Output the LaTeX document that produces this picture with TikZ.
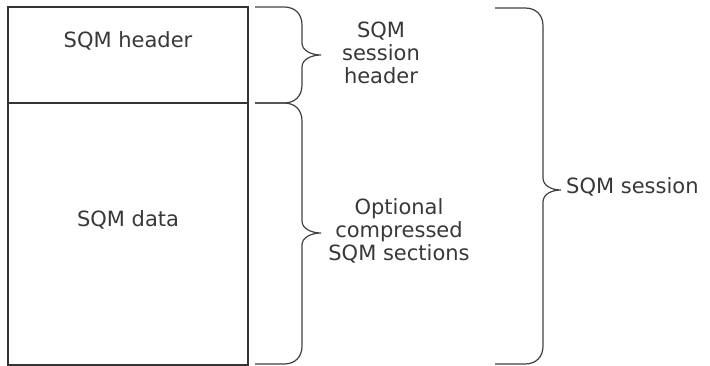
\documentclass[tikz,border=0pt]{standalone}
\usepackage{fontspec}
\setmainfont{DejaVu Sans}
\usetikzlibrary{positioning}

% brace: start x, stem x, tip x, top y, tip y, bottom y
\newcommand{\sqmbrace}[6]{%
  \draw[brace line] (#1,#4) -- ({#2-18},#4)
    .. controls ({#2-7},#4) and (#2,{#4+7}) .. (#2,{#4+18})
    -- (#2,{#5-12})
    .. controls (#2,{#5-4}) and ({#3-9},#5) .. (#3,#5)
    .. controls ({#3-9},#5) and (#2,{#5+4}) .. (#2,{#5+12})
    -- (#2,{#6-18})
    .. controls (#2,{#6-7}) and ({#2-7},#6) .. ({#2-18},#6)
    -- (#1,#6);}

\begin{document}
\begin{tikzpicture}[x=1pt,y=-1pt,
    font=\fontsize{21}{23}\selectfont,text=black!78,
    box/.style={draw=black!80,line width=1.2pt,minimum width=240pt,inner sep=0pt},
    brace line/.style={draw=black!75,line width=1.2pt},
    txt/.style={align=center,inner sep=0pt}]

  \useasboundingbox (0,0) rectangle (710,366);

  \node[box,minimum height=96pt] (hdrbox) at (128,55) {};
  \node[box,minimum height=262pt] (databox) at (128,234) {};
  \node[txt] (hdr) at (128,41) {SQM header};
  \node[txt] (data) at (128,220) {SQM data};

  \sqmbrace{255}{302}{321}{7}{55}{103}
  \sqmbrace{255}{302}{321}{103}{233}{364}
  \sqmbrace{495}{543}{561}{8}{190}{364}

  \node[txt] (sesshdr) at (381,53) {SQM\\session\\header};
  \node[txt] (sections) at (399,231) {Optional\\compressed\\SQM sections};
  \node[txt,anchor=west] (session) at (566,187) {SQM session};

\end{tikzpicture}
\end{document}
